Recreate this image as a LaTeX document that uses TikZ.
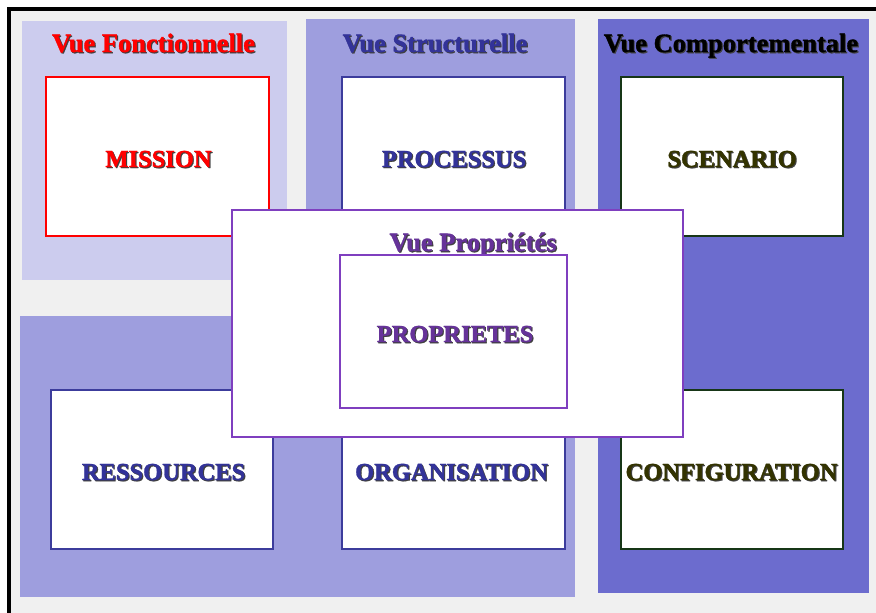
\documentclass[tikz,border=0pt]{standalone}
\usepackage{fontspec}
\setmainfont{Liberation Serif}[BoldFeatures={FakeBold=1.2}]
\usepackage{graphicx}
\definecolor{bgGray}{HTML}{F0F0F0}
\definecolor{panelA}{HTML}{CCCCEE}
\definecolor{panelB}{HTML}{9E9EDE}
\definecolor{panelC}{HTML}{6C6CCE}
\definecolor{blueBorder}{HTML}{3C3C9C}
\definecolor{greenBorder}{HTML}{173617}
\definecolor{purpleBorder}{HTML}{7F3FBF}
\definecolor{blueText}{HTML}{333399}
\definecolor{oliveText}{HTML}{333300}
\definecolor{purpleText}{HTML}{663399}
\newcommand\shadowtxt[1]{\rlap{\kern1.1pt\raisebox{-1.1pt}{\color{black!75}#1}}#1}
\newcommand\headtxt[1]{\fontsize{26.5}{30}\selectfont\bfseries\shadowtxt{#1}}
\newcommand\boxtxt[1]{\fontsize{24.5}{28}\selectfont\bfseries\shadowtxt{#1}}
\begin{document}
\begin{tikzpicture}[x=1pt, y=-1pt,
  viewbox/.style={draw, fill=white, line width=2pt, inner sep=0pt, outer sep=0pt},
  bluebox/.style={viewbox, draw=blueBorder, minimum width=223pt, minimum height=159pt},
  greenbox/.style={viewbox, draw=greenBorder, minimum width=222pt, minimum height=159pt},
  heading/.style={anchor=base, inner sep=0pt},
  boxlabel/.style={anchor=base, inner sep=0pt}]
\useasboundingbox (0,0) rectangle (876,613);
\clip (0,0) rectangle (876,613);
\fill[white] (0,0) rectangle (876,613);
\draw[line width=4pt, fill=bgGray] (9,9) rectangle (1000,1000);
% panels
\fill[panelA] (22,21) rectangle (287,280);
\fill[panelB] (306,19) rectangle (575,597);
\fill[panelB] (20,316) rectangle (575,597);
\fill[panelC] (598,19) rectangle (869,593);
% headings
\node[heading, text=red] (hfonc) at (153.5,52) {\headtxt{Vue Fonctionnelle}};
\node[heading, text=blueText] (hstruc) at (435,52) {\headtxt{Vue Structurelle}};
\node[heading, text=black] (hcomp) at (731,52) {\headtxt{Vue Comportementale}};
% boxes
\node[viewbox, draw=red, minimum width=223pt, minimum height=159pt] (mission) at (157.5,156.5) {};
\node[bluebox] (processus) at (453.5,156.5) {};
\node[greenbox] (scenario) at (732,156.5) {};
\node[viewbox, draw=blueBorder, minimum width=222pt, minimum height=159pt] (ressources) at (162,469.5) {};
\node[bluebox] (organisation) at (453.5,469.5) {};
\node[greenbox] (configuration) at (732,469.5) {};
% labels
\node[boxlabel, text=red] (lmission) at (158.5,167) {\boxtxt{MISSION}};
\node[boxlabel, text=blueText] (lprocessus) at (454,167) {\boxtxt{PROCESSUS}};
\node[boxlabel, text=oliveText] (lscenario) at (732,167) {\boxtxt{SCENARIO}};
\node[boxlabel, text=blueText] (lressources) at (163.5,480) {\boxtxt{RESSOURCES}};
\node[boxlabel, text=blueText] (lorganisation) at (451.5,480) {\boxtxt{ORGANISATION}};
\node[boxlabel, text=oliveText] (lconfiguration) at (731.5,480) {\boxtxt{CONFIGURATION}};
% properties view
\node[viewbox, draw=purpleBorder, minimum width=451pt, minimum height=227pt] (vueprop) at (457.5,323.5) {};
\node[heading, text=purpleText] (hprop) at (473,251) {\headtxt{Vue Propriétés}};
\node[viewbox, draw=purpleBorder, minimum width=227pt, minimum height=153pt] (proprietes) at (453.5,331.5) {};
\node[boxlabel, text=purpleText] (lproprietes) at (455,342) {\boxtxt{PROPRIETES}};
\end{tikzpicture}
\end{document}
